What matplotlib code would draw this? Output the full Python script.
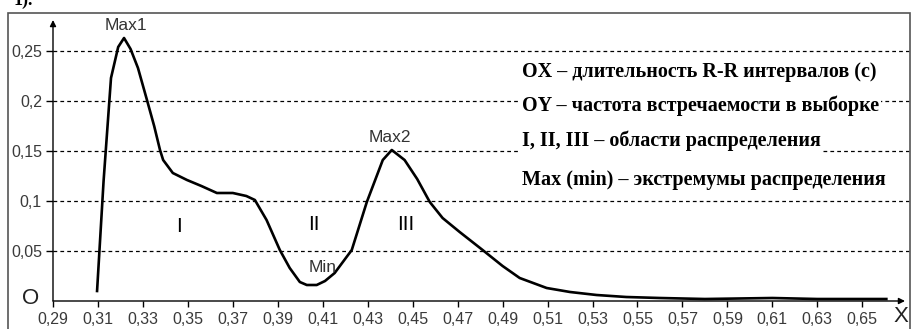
import matplotlib
matplotlib.use('Agg')
import matplotlib.pyplot as plt
from matplotlib.patches import Rectangle

## DATA
x_vals = [0.3096, 0.3125, 0.3158, 0.3190, 0.3216, 0.3245, 0.3278, 0.3318, 0.3350,
          0.3376, 0.3390, 0.3433, 0.3496, 0.3560, 0.3629, 0.3700, 0.3760, 0.3798,
          0.3850, 0.3909, 0.3953, 0.3998, 0.4029, 0.4073, 0.4110, 0.4153, 0.4229,
          0.4296, 0.4367, 0.4407, 0.4464, 0.4520, 0.4576, 0.4633, 0.4709, 0.4811,
          0.4900, 0.4976, 0.5096, 0.5200, 0.5318, 0.5450, 0.5600, 0.5800, 0.6100,
          0.6300, 0.6607]
y_vals = [0.010, 0.120, 0.223, 0.254, 0.263, 0.252, 0.233, 0.201, 0.175,
          0.151, 0.141, 0.128, 0.121, 0.115, 0.108, 0.108, 0.105, 0.101,
          0.081, 0.051, 0.033, 0.019, 0.016, 0.016, 0.020, 0.028, 0.051,
          0.099, 0.141, 0.151, 0.141, 0.122, 0.099, 0.083, 0.069, 0.051,
          0.035, 0.023, 0.013, 0.009, 0.006, 0.004, 0.003, 0.002, 0.003,
          0.002, 0.002]

x_ticks = [0.29 + 0.02 * i for i in range(19)]
y_ticks = [0.05, 0.1, 0.15, 0.2, 0.25]
x_labels = [('%.2f' % v).replace('.', ',') for v in x_ticks]
y_labels = ['0,05', '0,1', '0,15', '0,2', '0,25']

notes = ['OX \u2013 длительность R-R интервалов (с)',
         'OY \u2013 частота встречаемости в выборке',
         'I, II, III \u2013 области распределения',
         'Max (min) \u2013 экстремумы распределения']

W, H = 912, 329
fig = plt.figure(figsize=(W / 100, H / 100), dpi=100)

# outer frame (bottom edge is below the picture)
fig.patches.append(Rectangle((8 / W, -0.1), (910 - 8) / W, (H - 13) / H + 0.1,
                             transform=fig.transFigure, fill=False,
                             edgecolor='#555555', lw=1.2))
fig.text(14 / W, 1.0, '1).', fontsize=13, fontweight='bold',
         family='Liberation Serif', va='center')

ax = fig.add_axes([53 / W, (H - 301) / H, (905 - 53) / W, (301 - 20) / H])
ax.set_xlim(0.29, 0.669)
ax.set_ylim(0, 0.281)
for s in ax.spines.values():
    s.set_visible(False)
ax.patch.set_alpha(0)

# axes with arrows
ax.annotate('', xy=(1, 0), xytext=(0, 0), xycoords='axes fraction',
            arrowprops=dict(arrowstyle='-|>', color='black', lw=1,
                            mutation_scale=9, shrinkA=0, shrinkB=0))
ax.annotate('', xy=(0, 1), xytext=(0, 0), xycoords='axes fraction',
            arrowprops=dict(arrowstyle='-|>', color='black', lw=1,
                            mutation_scale=9, shrinkA=0, shrinkB=0))

for yv in y_ticks:
    ax.axhline(yv, xmin=0, xmax=1.005, color='black', ls=(0, (3, 2.5)), lw=0.9,
               clip_on=False, zorder=1)

ax.set_xticks(x_ticks)
ax.set_xticklabels(x_labels)
ax.set_yticks(y_ticks)
ax.set_yticklabels(y_labels)
ax.tick_params(axis='x', direction='out', length=4, width=1, pad=4,
               labelsize=11.5, labelcolor='#3a3a3a')
ax.tick_params(axis='y', direction='out', length=5, width=1, pad=3,
               labelsize=11.5, labelcolor='#3a3a3a')
for lab in ax.get_xticklabels() + ax.get_yticklabels():
    lab.set_family('Liberation Sans')

ax.plot(x_vals, y_vals, color='black', lw=1.9, zorder=3, clip_on=False)

lab_kw = dict(family='Liberation Sans', color='#333333', ha='center', va='center',
              fontsize=12.5)
ax.text(0.3225, 0.276, 'Max1', **lab_kw)
ax.text(0.4400, 0.164, 'Max2', **lab_kw)
ax.text(0.4100, 0.034, 'Min', **lab_kw)
rom_kw = dict(family='Liberation Sans', color='black', ha='center', va='center',
              fontsize=15)
ax.text(0.3460, 0.074, 'I', **rom_kw)
ax.text(0.4060, 0.077, 'II', **rom_kw)
ax.text(0.4470, 0.077, 'III', **rom_kw)
fig.text(31 / W, (H - 299) / H, 'O', fontsize=16, family='Liberation Sans',
         color='#222222', ha='center', va='center')
fig.text(901 / W, (H - 316) / H, 'X', fontsize=16, family='Liberation Sans',
         color='#222222', ha='center', va='center')

# legend-like notes
note_y = [72, 106, 141, 180]
for txt, py in zip(notes, note_y):
    fig.text(522 / W, (H - py) / H, txt, fontsize=14.5, fontweight='bold',
             family='Liberation Serif', ha='left', va='center', zorder=5,
             bbox=dict(facecolor='white', edgecolor='none', pad=1.0))

fig.savefig('out.png', dpi=100)
